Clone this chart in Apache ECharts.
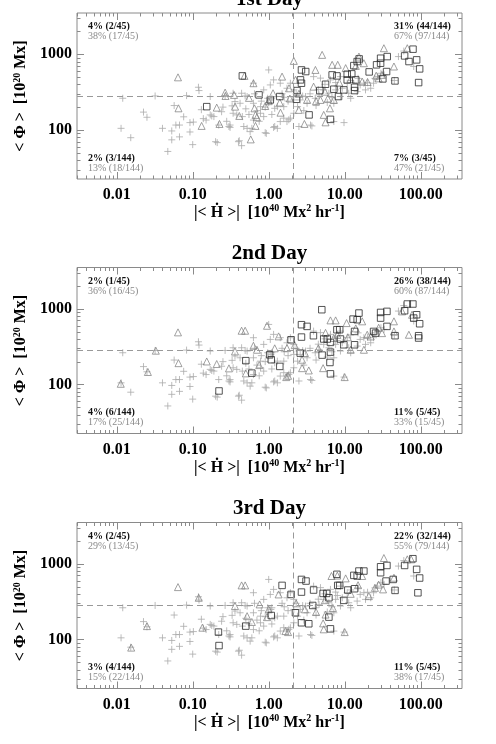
<!DOCTYPE html>
<html>
<head>
<meta charset="utf-8">
<script src="https://cdn.jsdelivr.net/npm/echarts@6/dist/echarts.min.js"></script>
<style>
  html, body { margin: 0; background: #fff; }
  #chart { width: 496px; height: 744px; }
</style>
</head>
<body>
<div id="chart"></div>
<script>
const dayTitles = ['1st Day', '2nd Day', '3rd Day']
const hdotCut = 2.1
const phiCut = 280
const xRange = [0.003, 350]
const yRange = [22.5, 3500]

// gray crosses: all regions
const crosses = [
  [0.012, 262], [0.032, 281], [0.0114, 105], [0.0153, 79], [0.0225, 172], [0.025, 147], [0.04, 105],
  [0.047, 52], [0.053, 74], [0.053, 97], [0.057, 210], [0.06, 116], [0.067, 116], [0.067, 81],
  [0.076, 149], [0.092, 125], [0.092, 94], [0.102, 127], [0.1, 64], [0.119, 366], [0.121, 331],
  [0.083, 284], [0.138, 141], [0.17, 276], [0.17, 158], [0.19, 150], [0.22, 116], [0.21, 68],
  [0.24, 174], [0.3, 111], [0.31, 116], [0.34, 166], [0.36, 237], [0.42, 225], [0.40, 70],
  [0.44, 62], [0.34, 305], [0.47, 111], [0.52, 105], [0.57, 95], [0.63, 135], [0.78, 166],
  [0.86, 150], [0.93, 90], [1.0, 620], [1.07, 249], [1.2, 111], [1.3, 105], [1.42, 129],
  [1.58, 143], [1.74, 129], [1.93, 143], [2.14, 166], [1.93, 414], [1.58, 203], [1.2, 193],
  [1.1, 262], [1.3, 203], [0.78, 203], [0.63, 225], [0.52, 276], [0.44, 305], [0.33, 208],
  [0.38, 158], [0.63, 414], [0.86, 338], [1.05, 393], [1.42, 414], [1.16, 458], [1.74, 355],
  [2.14, 249], [3.2, 225], [3.55, 116], [4.1, 262], [4.6, 290], [5.3, 338], [6.2, 305],
  [7.2, 225], [7.6, 338], [9.8, 125], [8.8, 276], [11.3, 305], [12, 262], [16, 393],
  [18.8, 338], [22, 355], [24, 414], [27, 506], [33, 533], [51, 930], [81, 688], [7.2, 129],
  [2.6, 249], [2.4, 203], [3.05, 276], [2.14, 338], [3.9, 506], [4.8, 483], [6.5, 458],
  [7.6, 422], [9.3, 355], [10.8, 414], [14.6, 321], [17.9, 414], [8.8, 506], [0.2, 70],
  [0.41, 72], [0.9, 92], [0.178, 153], [0.31, 108], [0.6, 105], [1.16, 108], [1.84, 136],
  [2.5, 111], [3.7, 113], [0.267, 281], [0.49, 281], [0.97, 262], [0.5, 190], [0.7, 180],
  [0.9, 200], [1.0, 230], [0.8, 240], [0.55, 160], [0.45, 150], [0.25, 200], [0.28, 130],
  [0.15, 135], [0.13, 185], [0.65, 300], [1.5, 300], [1.8, 240], [2.3, 300], [2.8, 280],
  [3.5, 300], [4.5, 340], [5.5, 400], [8, 380], [12, 450], [15, 480], [20, 420], [25, 480],
  [30, 560], [45, 450], [60, 1100], [1.6, 270], [0.75, 130], [1.1, 160], [2.9, 180],
  [4.2, 210], [5.9, 230], [6.8, 270]
]

const triangles1 = [
  [0.064, 495], [0.065, 193], [0.131, 113], [0.207, 197], [0.225, 120], [0.267, 311], [0.27, 281],
  [0.361, 203], [0.41, 153], [0.48, 517], [0.63, 414], [0.65, 193], [0.67, 158], [0.7, 147],
  [0.67, 113], [0.58, 75], [0.9, 207], [1.14, 305], [1.5, 506], [1.4, 230], [1.43, 169],
  [1.85, 355], [2.14, 816], [2.25, 458], [2.49, 184], [2.95, 120], [4.12, 620], [3.9, 373],
  [5.05, 980], [4.8, 249], [5.3, 158], [5.6, 126], [6.4, 193], [6.84, 724], [8.1, 724],
  [7.2, 249], [10.3, 655], [15.4, 930], [17.9, 760], [17, 435], [32.8, 1200], [44.5, 688],
  [30.9, 533], [66.7, 1200], [0.55, 265], [1.0, 240], [2.5, 300], [3.2, 250], [4.2, 240],
  [5.5, 320], [6, 260], [8.5, 420], [12, 470], [14, 700], [20, 430], [26, 520], [28, 480],
  [1.9, 260], [0.35, 290]
]
const squares1 = [
  [0.45, 517], [0.153, 203], [0.746, 290], [1.05, 249], [1.4, 276], [2.32, 254], [2.36, 331],
  [2.7, 620], [3.07, 590], [2.62, 458], [2.7, 414], [3.4, 158], [6.5, 138], [4.7, 331],
  [5.6, 401], [6.84, 533], [7.2, 345], [7.9, 517], [8.3, 276], [9.75, 338], [10.8, 544],
  [10.8, 458], [12.4, 550], [13.2, 707], [13.5, 366], [13.5, 331], [14.0, 458], [14.6, 800],
  [15.5, 867], [21, 584], [26.3, 724], [29.7, 885], [29.7, 760], [36.3, 930], [31.8, 472],
  [35.6, 590], [45.9, 444], [61.5, 950], [70.2, 800], [79.3, 1165], [88.5, 842], [97, 640],
  [94, 422]
]

const triangles2 = [
  [0.0113, 102], [0.0257, 146], [0.0327, 279], [0.064, 487], [0.065, 191], [0.153, 201],
  [0.207, 186], [0.3, 163], [0.36, 273], [0.44, 512], [0.49, 512], [0.7, 287], [0.63, 324],
  [0.95, 595], [1.35, 431], [1.7, 125], [1.8, 130], [1.74, 302], [2.75, 212], [2.75, 164],
  [3.37, 153], [5.2, 164], [6.5, 701], [7.6, 701], [7.2, 410], [10, 125], [10.6, 646], [17, 681],
  [17.9, 287], [19.8, 453], [31, 476], [44.5, 681], [57, 922], [44.5, 501], [70, 453], [77, 832],
  [12, 287], [0.5, 140], [0.75, 180], [1.2, 300], [2.2, 330], [3.0, 260], [4.5, 300], [5.6, 480],
  [8, 450], [11, 420], [14, 550], [22, 430], [28, 560]
]
const squares2 = [
  [5.0, 970], [2.7, 615], [3.2, 584], [2.7, 422], [2.6, 259], [3.88, 440], [1.97, 389],
  [1.03, 246], [1.08, 212], [1.4, 173], [0.5, 206], [0.6, 141], [0.222, 82], [5.05, 244],
  [5.3, 398], [5.9, 398], [6.5, 359], [6.5, 267], [6.4, 195], [6.5, 138], [7.9, 528], [8.6, 528],
  [8.8, 398], [9.75, 334], [12.9, 729], [13.5, 501], [13.5, 334], [14.6, 715], [15.4, 876],
  [24, 501], [25.5, 476], [29.7, 893], [29.7, 752], [36, 922], [36, 584], [46, 440], [61.5, 940],
  [66.7, 1153], [79, 1153], [81, 752], [88.5, 832], [97, 633], [94, 440], [94, 410]
]

const triangles3 = [
  [0.0155, 78], [0.025, 150], [0.064, 491], [0.12, 355], [0.134, 143], [0.36, 276], [0.44, 517],
  [0.49, 517], [0.52, 203], [0.76, 290], [0.95, 197], [1.35, 393], [1.66, 129], [1.8, 125],
  [5.2, 163], [5.3, 136], [6.7, 688], [8.0, 697], [10.3, 640], [10, 125], [17, 688], [20.8, 373],
  [32, 458], [32.8, 1188], [44.5, 653], [66.7, 1142], [75, 1142], [5.6, 213], [0.6, 170],
  [1.0, 250], [2.3, 300], [3.0, 250], [4.2, 230], [5.5, 330], [7, 260], [12, 400], [15, 520],
  [25, 480], [28, 530]
]
const squares3 = [
  [1.5, 517], [1.97, 393], [2.25, 225], [2.7, 166], [2.7, 620], [2.7, 422], [3.1, 590],
  [3.37, 161], [3.9, 449], [3.8, 281], [5.2, 405], [5.8, 405], [6.2, 355], [6.2, 197], [6.5, 138],
  [7.9, 724], [8.1, 517], [8.6, 517], [9.75, 328], [11, 449], [13.2, 701], [13.5, 467],
  [14.6, 688], [15.4, 800], [17.9, 800], [29.7, 911], [29.7, 760], [36, 948], [35, 590],
  [43.5, 620], [46, 444], [61.5, 948], [79, 1164], [88.5, 842], [97, 647], [92, 413], [0.5, 150],
  [1.08, 207], [0.218, 125], [0.222, 83]
]

// quadrant notes: TL, TR, BL, BR  -> [black, gray]
const notes1 = [['4% (2/45)', '38% (17/45)'], ['31% (44/144)', '67% (97/144)'], ['2% (3/144)', '13% (18/144)'], ['7% (3/45)', '47% (21/45)']]
const notes2 = [['2% (1/45)', '36% (16/45)'], ['26% (38/144)', '60% (87/144)'], ['4% (6/144)', '17% (25/144)'], ['11% (5/45)', '33% (15/45)']]
const notes3 = [['4% (2/45)', '29% (13/45)'], ['22% (32/144)', '55% (79/144)'], ['3% (4/144)', '15% (22/144)'], ['11% (5/45)', '38% (17/45)']]

const panels = [
  { tri: triangles1, sq: squares1, notes: notes1 },
  { tri: triangles2, sq: squares2, notes: notes2 },
  { tri: triangles3, sq: squares3, notes: notes3 }
]

const FONT = '"Liberation Serif", "Times New Roman", serif'
const GRID_LEFT = 77
const GRID_W = 385
const GRID_H = 166
const tops = [13, 267.5, 522.5]
const boxColor = '#8a8a8a'

function isDecade(v) {
  const l = Math.log10(v)
  return Math.abs(l - Math.round(l)) < 1e-6
}

function tickValues(range) {
  const out = []
  for (let e = Math.floor(Math.log10(range[0])); e <= Math.ceil(Math.log10(range[1])); e++) {
    for (let k = 1; k <= 9; k++) {
      const v = k * Math.pow(10, e)
      if (v >= range[0] && v <= range[1]) out.push(v)
    }
  }
  return out
}
const xTicks = tickValues(xRange)
const yTicks = tickValues(yRange)

const rich = {
  t: { fontFamily: FONT, fontWeight: 'bold', fontSize: 16, color: '#000' },
  s: { fontFamily: FONT, fontWeight: 'bold', fontSize: 10, color: '#000', padding: [0, 0, 8, 0] }
}

const chart = echarts.init(document.getElementById('chart'))

const grid = []
const xAxis = []
const yAxis = []
const series = []
const graphic = []

panels.forEach((p, i) => {
  grid.push({
    left: GRID_LEFT, top: tops[i], width: GRID_W, height: GRID_H,
    show: true, borderColor: boxColor, borderWidth: 1, backgroundColor: 'transparent'
  })
  xAxis.push({
    type: 'log', gridIndex: i, min: xRange[0], max: xRange[1],
    axisLine: { show: false }, axisTick: { show: false }, splitLine: { show: false },
    axisLabel: {
      margin: 8, fontFamily: FONT, fontWeight: 'bold', fontSize: 16, color: '#000',
      formatter: v => isDecade(v) ? v.toFixed(2) : ''
    },
    name: '{t||< Ḣ >|  [10}{s|40}{t| Mx}{s|2}{t| hr}{s|-1}{t|]}',
    nameLocation: 'middle', nameGap: 23,
    nameTextStyle: { rich: rich }
  })
  yAxis.push({
    type: 'log', gridIndex: i, min: yRange[0], max: yRange[1],
    axisLine: { show: false }, axisTick: { show: false }, splitLine: { show: false },
    axisLabel: {
      margin: 5, fontFamily: FONT, fontWeight: 'bold', fontSize: 16, color: '#000',
      formatter: v => isDecade(v) ? String(Math.round(v)) : ''
    },
    name: '{t|< Φ >  [10}{s|20}{t| Mx]}',
    nameLocation: 'middle', nameGap: 44,
    nameTextStyle: { rich: rich }
  })

  series.push({
    type: 'scatter', xAxisIndex: i, yAxisIndex: i, z: 2,
    symbol: 'path://M0,4L8,4M4,0L4,8', symbolSize: 7,
    itemStyle: { color: 'rgba(0,0,0,0)', borderColor: '#ababab', borderWidth: 1 },
    data: crosses,
    markLine: {
      silent: true, symbol: 'none', label: { show: false },
      lineStyle: { type: [6, 4], color: '#999', width: 1 },
      data: [{ xAxis: hdotCut }, { yAxis: phiCut }]
    }
  })
  series.push({
    type: 'scatter', xAxisIndex: i, yAxisIndex: i, z: 3,
    symbol: 'triangle', symbolSize: 7,
    itemStyle: { color: 'rgba(0,0,0,0)', borderColor: '#7c7c7c', borderWidth: 0.9 },
    data: p.tri
  })
  series.push({
    type: 'scatter', xAxisIndex: i, yAxisIndex: i, z: 4,
    symbol: 'rect', symbolSize: 6.5,
    itemStyle: { color: 'rgba(0,0,0,0)', borderColor: '#2a2a2a', borderWidth: 1 },
    data: p.sq
  })
  // minor / major ticks on all four sides
  series.push({
    type: 'custom', xAxisIndex: i, yAxisIndex: i, silent: true, z: 5,
    data: xTicks.map(v => [v, 100]),
    renderItem(params, api) {
      const cs = params.coordSys
      const px = Math.round(api.coord([api.value(0), 100])[0]) + 0.5
      const len = isDecade(api.value(0)) ? 7 : 3.5
      const style = { stroke: boxColor, lineWidth: 1 }
      return {
        type: 'group', children: [
          { type: 'line', shape: { x1: px, y1: cs.y + cs.height, x2: px, y2: cs.y + cs.height - len }, style },
          { type: 'line', shape: { x1: px, y1: cs.y, x2: px, y2: cs.y + len }, style }
        ]
      }
    }
  })
  series.push({
    type: 'custom', xAxisIndex: i, yAxisIndex: i, silent: true, z: 5,
    data: yTicks.map(v => [1, v]),
    renderItem(params, api) {
      const cs = params.coordSys
      const py = Math.round(api.coord([1, api.value(1)])[1]) + 0.5
      const len = isDecade(api.value(1)) ? 7 : 3.5
      const style = { stroke: boxColor, lineWidth: 1 }
      return {
        type: 'group', children: [
          { type: 'line', shape: { x1: cs.x, y1: py, x2: cs.x + len, y2: py }, style },
          { type: 'line', shape: { x1: cs.x + cs.width, y1: py, x2: cs.x + cs.width - len, y2: py }, style }
        ]
      }
    }
  })

  // title
  graphic.push({
    type: 'text', x: GRID_LEFT + GRID_W / 2, y: tops[i] - 13.5,
    style: { text: dayTitles[i], font: 'bold 21px ' + FONT, fill: '#000', textAlign: 'center', textVerticalAlign: 'middle' }
  })
  // quadrant notes
  const spots = [[88, 13.5], [394, 13.5], [88, 145], [394, 145]]
  p.notes.forEach((pair, q) => {
    graphic.push({
      type: 'text', x: spots[q][0], y: tops[i] + spots[q][1],
      style: { text: pair[0], font: 'bold 10px ' + FONT, fill: '#111', textVerticalAlign: 'middle' }
    })
    graphic.push({
      type: 'text', x: spots[q][0], y: tops[i] + spots[q][1] + 10,
      style: { text: pair[1], font: '10px ' + FONT, fill: '#8a8a8a', textVerticalAlign: 'middle' }
    })
  })
})

chart.setOption({
  animation: false,
  backgroundColor: '#fff',
  grid, xAxis, yAxis, series, graphic
})
</script>
</body>
</html>
